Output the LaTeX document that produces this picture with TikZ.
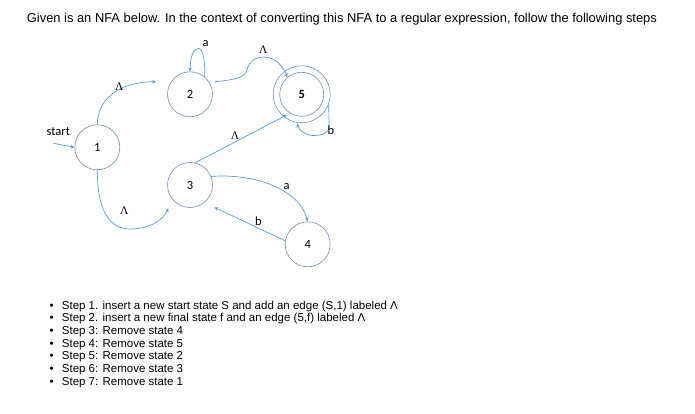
\documentclass[tikz,border=0pt]{standalone}
\usepackage{fontspec}
\setmainfont{Liberation Sans}
\newfontfamily\lblfont{Carlito}
\newfontfamily\serfont{Liberation Serif}
\usetikzlibrary{arrows.meta}
\definecolor{edgeblue}{RGB}{91,155,213}
\definecolor{circblue}{RGB}{110,145,185}
\begin{document}
\begin{tikzpicture}[x=1pt,y=-1pt,
  statenode/.style={circle,draw=circblue,line width=0.6pt,minimum size=45pt,inner sep=0pt,font=\lblfont\fontsize{12.5}{14}\selectfont},
  ringnode/.style={circle,draw=circblue,line width=0.6pt,minimum size=57pt,inner sep=0pt},
  edge/.style={draw=edgeblue,line width=0.7pt,-{Stealth[length=4pt,width=3.5pt]}},
  sl/.style={font=\lblfont\fontsize{12.5}{14}\selectfont,inner sep=0pt},
  gl/.style={font=\serfont\fontsize{11.5}{13}\selectfont,inner sep=0pt},
  steptext/.style={anchor=base west,inner sep=0pt,font=\fontsize{11.5}{13}\selectfont},
  bulletdot/.style={anchor=base,inner sep=0pt,font=\fontsize{11.5}{13}\selectfont}
]
\useasboundingbox (0,0) rectangle (695,414);
\node[anchor=base west,inner sep=0pt,font=\fontsize{12.9}{15}\selectfont] (title) at (26.7,23) {Given is an NFA below. In the context of converting this NFA to a regular expression, follow the following steps};

\node[statenode] (n1) at (97.3,147.3) {1};
\node[statenode] (n2) at (190,94.3) {2};
\node[statenode] (n3) at (190,185) {3};
\node[statenode] (n4) at (307.7,244.3) {4};
\node[statenode,minimum size=44pt,font=\lblfont\bfseries\fontsize{12.5}{14}\selectfont] (n5) at (301.7,94.3) {5};
\node[ringnode] (n5o) at (n5) {};

\coordinate (s0) at (53.3,143.3);
\coordinate (e12) at (156,81.7);
\coordinate (e13) at (168.3,208.3);
\coordinate (s25) at (215,81.7);
\coordinate (e35) at (286.7,115);
\coordinate (e43) at (214.3,207.3);
\coordinate (e55) at (297,123.5);

\node[sl] (lstart) at (58.3,131.5) {start};
\draw[edge] (s0) -- (n1.west);

\draw[edge] (n1.north) .. controls (97.3,100) and (118,82) .. (e12);
\node[gl] (l12) at (119.3,86.5) {Λ};

\draw[edge] (n1.south) .. controls (97.3,215) and (112,229) .. (130,229) .. controls (150,229) and (163,220) .. (e13);
\node[gl] (l13) at (124.3,211) {Λ};

\draw[edge] (n2.50) .. controls (205.5,58) and (202,48.3) .. (198.3,48.3) .. controls (193,48.3) and (190.3,58) .. (n2.north);
\node[sl] (l22) at (205.5,43.5) {a};

\draw[edge] (s25) .. controls (233,80) and (245,78) .. (247,70) .. controls (249,61) and (256,57) .. (264,57) .. controls (275,57) and (283,66) .. (n5.130);
\node[gl] (l25) at (263.3,50) {Λ};

\draw[edge] (n5o.-20) -- (329,127) .. controls (329,133) and (322,135.5) .. (313,135.5) .. controls (305,135.5) and (299,130) .. (e55);
\node[sl] (l55) at (331,130.5) {b};

\draw[edge] (n3.77) -- (e35);
\node[gl] (l35) at (235,135.5) {Λ};

\draw[edge] (n3.22) .. controls (255,173) and (300,190) .. (n4.north);
\node[sl] (l34) at (286.7,186.7) {a};

\draw[edge] (n4.171) -- (e43);
\node[sl] (l43) at (258.3,221.5) {b};

\foreach \i/\t in {0/{Step 1. insert a new start state S and add an edge (S,1) labeled Λ},
                   1/{Step 2. insert a new final state f and an edge (5,f) labeled Λ},
                   2/{Step 3: Remove state 4},
                   3/{Step 4: Remove state 5},
                   4/{Step 5: Remove state 2},
                   5/{Step 6: Remove state 3},
                   6/{Step 7: Remove state 1}} {
  \node[bulletdot] (b\i) at (51.7,309+12.7*\i) {•};
  \node[steptext] (t\i) at (61.7,309+12.7*\i) {\t};
}
\end{tikzpicture}
\end{document}
